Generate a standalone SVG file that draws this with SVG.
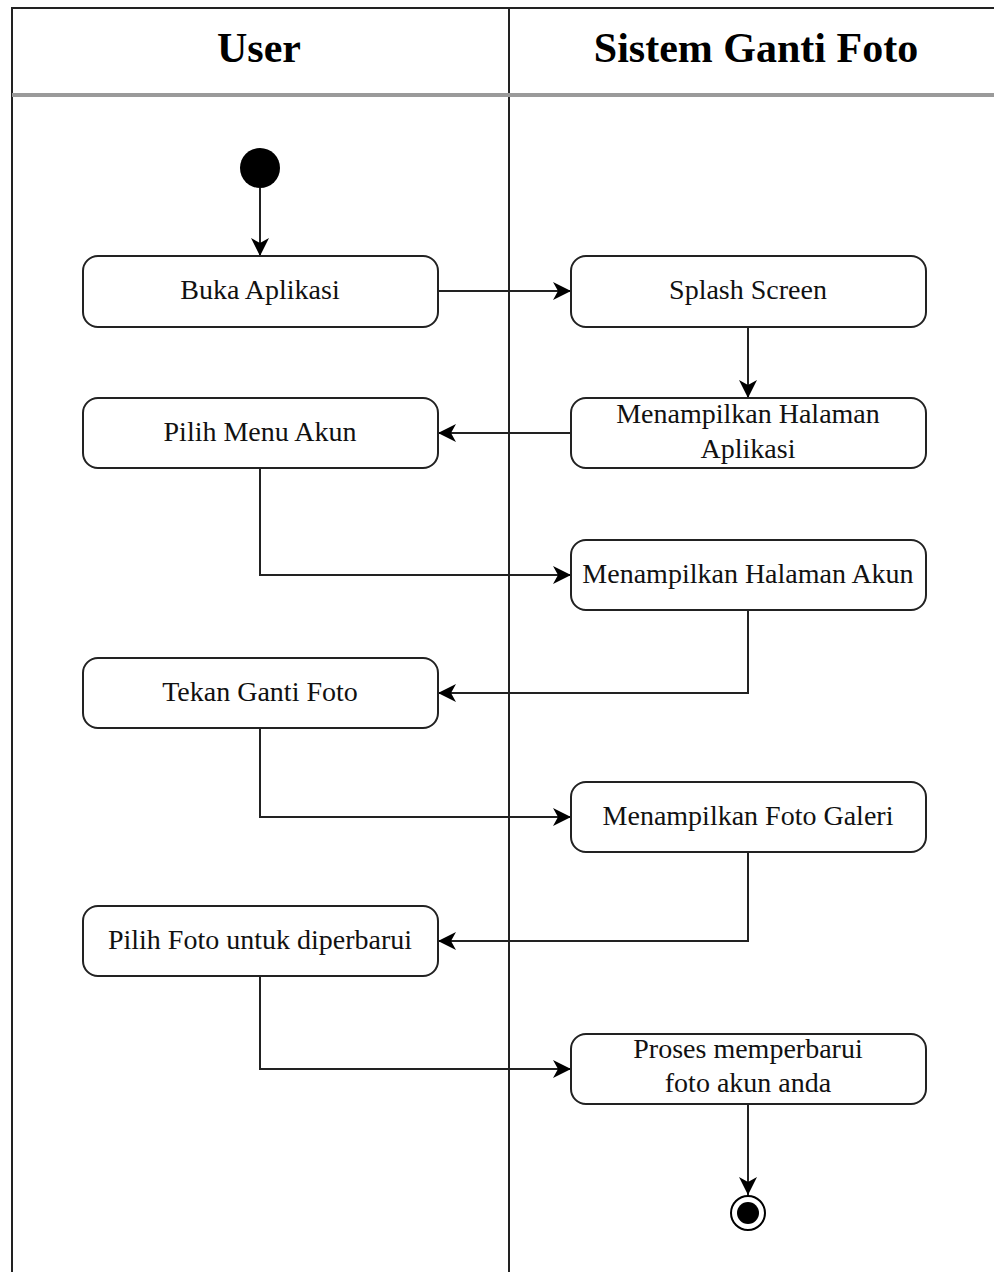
<svg xmlns="http://www.w3.org/2000/svg" width="994" height="1272" viewBox="0 0 994 1272">
  <style>
    .lane { fill: none; stroke: #222; stroke-width: 2; }
    .head { fill: none; stroke: #9a9a9a; stroke-width: 4; }
    .title { font-family: "Liberation Serif", "Times New Roman", serif; font-weight: bold; font-size: 42px; fill: #000; text-anchor: middle; }
    .box { fill: #fff; stroke: #222; stroke-width: 2; }
    .lbl { font-family: "Liberation Serif", "Times New Roman", serif; font-size: 28px; fill: #111; text-anchor: middle; }
    .edge { fill: none; stroke: #222; stroke-width: 2; marker-end: url(#arrow); }
  </style>
  <defs>
    <marker id="arrow" markerWidth="20" markerHeight="20" refX="18" refY="10" orient="auto" markerUnits="userSpaceOnUse">
      <path d="M0,1 L18,10 L0,19 L5,10 Z" fill="#000"/>
    </marker>
  </defs>
  <rect width="994" height="1272" fill="#fff"/>

  <!-- swimlanes -->
  <g id="lanes">
    <path class="lane" d="M12,1272 V8 H994"/>
    <line class="lane" x1="509" y1="8" x2="509" y2="1272"/>
    <line class="head" x1="12" y1="95" x2="994" y2="95"/>
    <text class="title" x="259" y="62">User</text>
    <text class="title" x="756" y="62">Sistem Ganti Foto</text>
  </g>

  <!-- connectors -->
  <g id="connectors">
    <line class="edge" x1="260" y1="188" x2="260" y2="256"/>
    <line class="edge" x1="438" y1="291" x2="571" y2="291"/>
    <line class="edge" x1="748" y1="327" x2="748" y2="398"/>
    <line class="edge" x1="571" y1="433" x2="438" y2="433"/>
    <path class="edge" d="M260,468 V575 H571"/>
    <path class="edge" d="M748,610 V693 H438"/>
    <path class="edge" d="M260,728 V817 H571"/>
    <path class="edge" d="M748,852 V941 H438"/>
    <path class="edge" d="M260,976 V1069 H571"/>
    <line class="edge" x1="748" y1="1104" x2="748" y2="1195"/>
  </g>

  <g id="start">
    <circle cx="260" cy="168" r="20" fill="#000"/>
  </g>

  <g id="buka-aplikasi">
    <rect class="box" x="83" y="256" width="355" height="71" rx="15"/>
    <text class="lbl" x="260" y="299">Buka Aplikasi</text>
  </g>
  <g id="splash-screen">
    <rect class="box" x="571" y="256" width="355" height="71" rx="15"/>
    <text class="lbl" x="748" y="299">Splash Screen</text>
  </g>
  <g id="pilih-menu-akun">
    <rect class="box" x="83" y="398" width="355" height="70" rx="15"/>
    <text class="lbl" x="260" y="441">Pilih Menu Akun</text>
  </g>
  <g id="halaman-aplikasi">
    <rect class="box" x="571" y="398" width="355" height="70" rx="15"/>
    <text class="lbl" x="748" y="423">Menampilkan Halaman</text>
    <text class="lbl" x="748" y="458">Aplikasi</text>
  </g>
  <g id="halaman-akun">
    <rect class="box" x="571" y="540" width="355" height="70" rx="15"/>
    <text class="lbl" x="748" y="583">Menampilkan Halaman Akun</text>
  </g>
  <g id="tekan-ganti-foto">
    <rect class="box" x="83" y="658" width="355" height="70" rx="15"/>
    <text class="lbl" x="260" y="701">Tekan Ganti Foto</text>
  </g>
  <g id="foto-galeri">
    <rect class="box" x="571" y="782" width="355" height="70" rx="15"/>
    <text class="lbl" x="748" y="825">Menampilkan Foto Galeri</text>
  </g>
  <g id="pilih-foto">
    <rect class="box" x="83" y="906" width="355" height="70" rx="15"/>
    <text class="lbl" x="260" y="949">Pilih Foto untuk diperbarui</text>
  </g>
  <g id="proses-perbarui">
    <rect class="box" x="571" y="1034" width="355" height="70" rx="15"/>
    <text class="lbl" x="748" y="1058">Proses memperbarui</text>
    <text class="lbl" x="748" y="1092">foto akun anda</text>
  </g>

  <g id="end">
    <circle cx="748" cy="1213" r="17" fill="#fff" stroke="#000" stroke-width="2"/>
    <circle cx="748" cy="1213" r="11" fill="#000"/>
  </g>
</svg>
